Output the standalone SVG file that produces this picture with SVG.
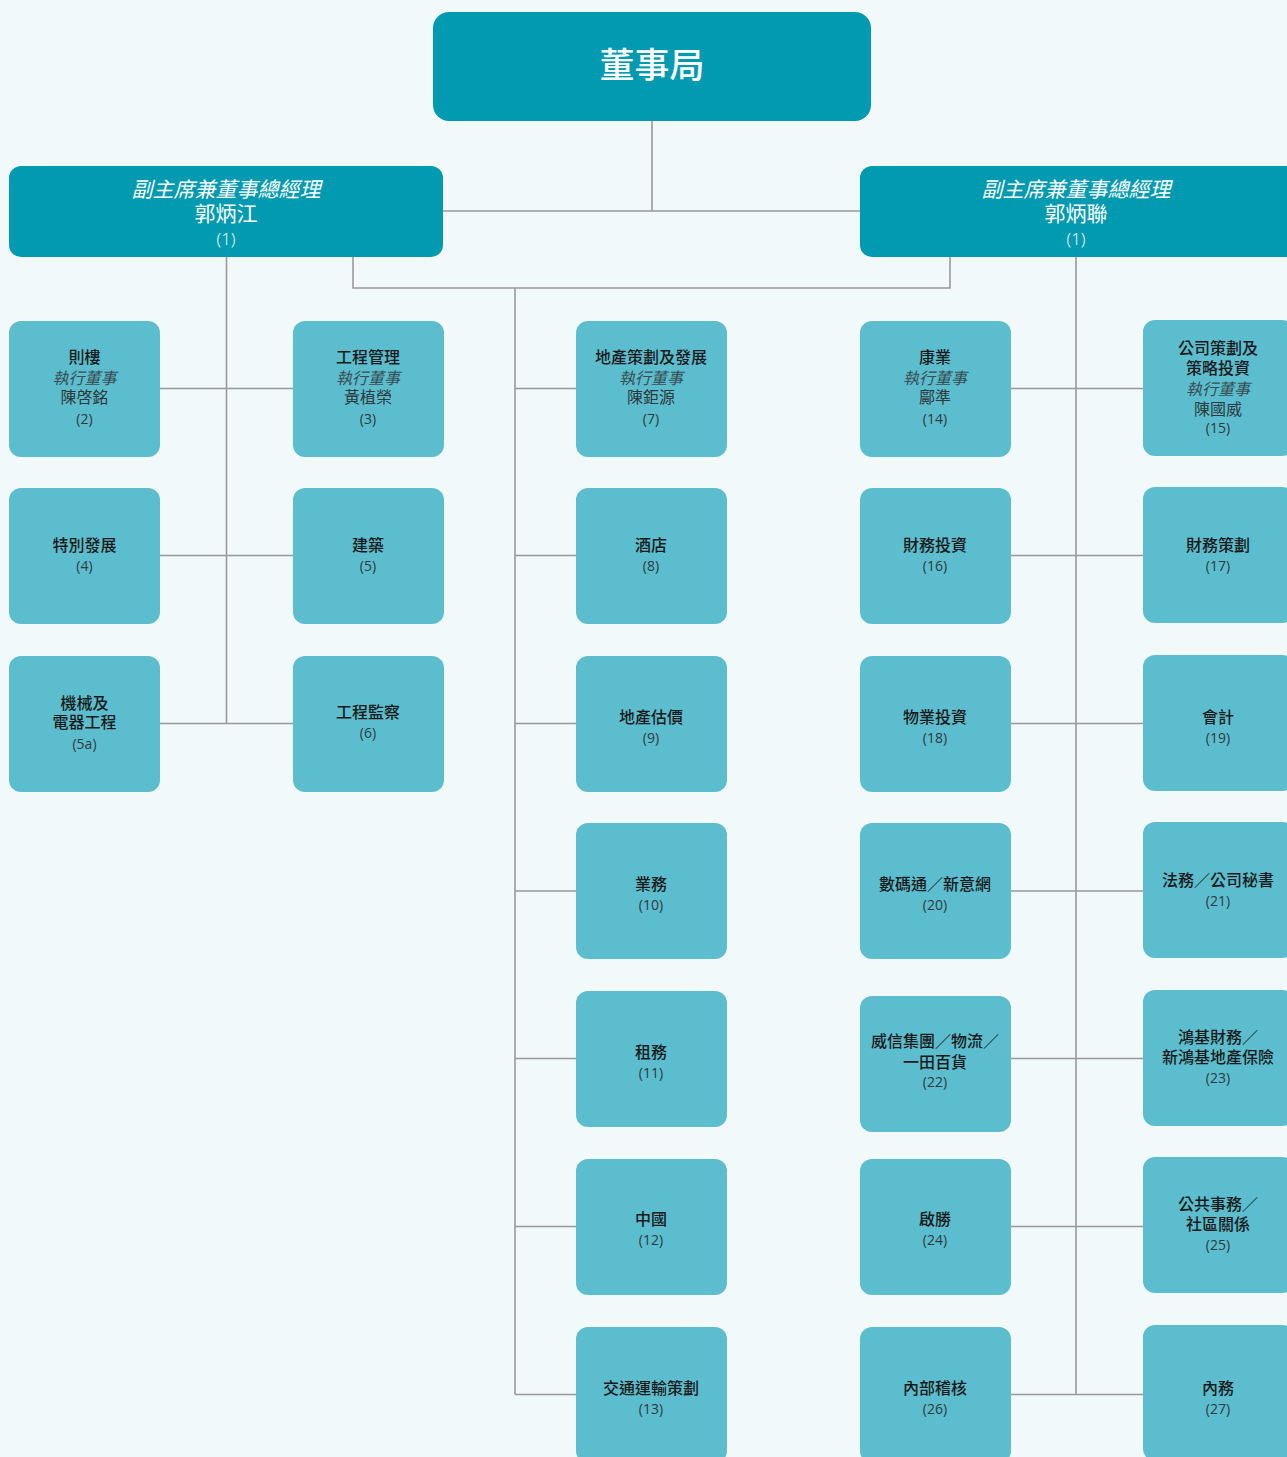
<svg xmlns="http://www.w3.org/2000/svg" width="1287" height="1457" viewBox="0 0 1287 1457">
<style>
.bg{fill:#f2f9fb}
.top{fill:#029ab1}
.box{fill:#5bbdcd}
.ln{stroke:#999;stroke-width:1.6;fill:none}
text{font-family:"Noto Sans CJK TC","Noto Sans CJK SC",sans-serif;text-anchor:middle}
.t{font-size:16px;font-weight:500;fill:#1a1a1a}
.i{font-size:16px;font-style:italic;font-weight:400;fill:#3a4d52}
.n{font-size:16px;font-weight:400;fill:#2e393c}
.d{font-size:14px;font-weight:400;fill:#2f3a3d;font-family:"Open Sans","Noto Sans",sans-serif}
.w{fill:#ffffff}
</style>
<rect class="bg" x="0" y="0" width="1287" height="1457"/>
<g id="connectors">
<path class="ln" d="M652 121V211M443 211H860"/>
<path class="ln" d="M226.5 257V723.5M160 388.5H293M160 555.5H293M160 723.5H293"/>
<path class="ln" d="M353 257V288H950V257M515 288V1394.5"/>
<path class="ln" d="M515 388.5H576M515 555.5H576M515 723.5H576M515 891H576M515 1058.5H576M515 1226.5H576M515 1394.5H576"/>
<path class="ln" d="M1076 257V1394.5"/>
<path class="ln" d="M1010 388.5H1143M1010 555.5H1143M1010 723.5H1143M1010 891H1143M1010 1058.5H1143M1010 1226.5H1143M1010 1394.5H1143"/>
</g>
<g id="board">
<rect class="top" x="433" y="12" width="438" height="109" rx="16"/>
<text class="w" x="652" y="78" font-size="35" font-weight="500">董事局</text>
</g>
<g id="vp-left">
<rect class="top" x="9" y="166" width="434" height="91" rx="12"/>
<text class="w" x="226" y="197" font-size="21" font-style="italic">副主席兼董事總經理</text>
<text class="w" x="226" y="221" font-size="21">郭炳江</text>
<text class="w" x="226" y="245" font-size="17" font-weight="300" style="font-family:'Open Sans',sans-serif">(1)</text>
</g>
<g id="vp-right">
<rect class="top" x="860" y="166" width="440" height="91" rx="12"/>
<text class="w" x="1076" y="197" font-size="21" font-style="italic">副主席兼董事總經理</text>
<text class="w" x="1076" y="221" font-size="21">郭炳聯</text>
<text class="w" x="1076" y="245" font-size="17" font-weight="300" style="font-family:'Open Sans',sans-serif">(1)</text>
</g>
<g id="n2"><rect class="box" x="9" y="321" width="151" height="136" rx="12"/>
<text class="t" x="84.5" y="363">則樓</text><text class="i" x="84.5" y="384">執行董事</text><text class="n" x="84.5" y="403">陳啓銘</text><text class="d" x="84.5" y="424">(2)</text></g>
<g id="n3"><rect class="box" x="293" y="321" width="151" height="136" rx="12"/>
<text class="t" x="368" y="363">工程管理</text><text class="i" x="368" y="384">執行董事</text><text class="n" x="368" y="403">黃植榮</text><text class="d" x="368" y="424">(3)</text></g>
<g id="n4"><rect class="box" x="9" y="488" width="151" height="136" rx="12"/>
<text class="t" x="84.5" y="551">特別發展</text><text class="d" x="84.5" y="571">(4)</text></g>
<g id="n5"><rect class="box" x="293" y="488" width="151" height="136" rx="12"/>
<text class="t" x="368" y="551">建築</text><text class="d" x="368" y="571">(5)</text></g>
<g id="n5a"><rect class="box" x="9" y="656" width="151" height="136" rx="12"/>
<text class="t" x="84.5" y="709">機械及</text><text class="t" x="84.5" y="728">電器工程</text><text class="d" x="84.5" y="749">(5a)</text></g>
<g id="n6"><rect class="box" x="293" y="656" width="151" height="136" rx="12"/>
<text class="t" x="368" y="718">工程監察</text><text class="d" x="368" y="738">(6)</text></g>
<g id="n7"><rect class="box" x="576" y="321" width="151" height="136" rx="12"/>
<text class="t" x="651" y="363">地產策劃及發展</text><text class="i" x="651" y="384">執行董事</text><text class="n" x="651" y="403">陳鉅源</text><text class="d" x="651" y="424">(7)</text></g>
<g id="n8"><rect class="box" x="576" y="488" width="151" height="136" rx="12"/>
<text class="t" x="651" y="551">酒店</text><text class="d" x="651" y="571">(8)</text></g>
<g id="n9"><rect class="box" x="576" y="656" width="151" height="136" rx="12"/>
<text class="t" x="651" y="723">地產估價</text><text class="d" x="651" y="743">(9)</text></g>
<g id="n10"><rect class="box" x="576" y="823" width="151" height="136" rx="12"/>
<text class="t" x="651" y="890">業務</text><text class="d" x="651" y="910">(10)</text></g>
<g id="n11"><rect class="box" x="576" y="991" width="151" height="136" rx="12"/>
<text class="t" x="651" y="1058">租務</text><text class="d" x="651" y="1078">(11)</text></g>
<g id="n12"><rect class="box" x="576" y="1159" width="151" height="136" rx="12"/>
<text class="t" x="651" y="1225">中國</text><text class="d" x="651" y="1245">(12)</text></g>
<g id="n13"><rect class="box" x="576" y="1327" width="151" height="136" rx="12"/>
<text class="t" x="651" y="1394">交通運輸策劃</text><text class="d" x="651" y="1414">(13)</text></g>
<g id="n14"><rect class="box" x="860" y="321" width="151" height="136" rx="12"/>
<text class="t" x="935" y="363">康業</text><text class="i" x="935" y="384">執行董事</text><text class="n" x="935" y="403">鄺準</text><text class="d" x="935" y="424">(14)</text></g>
<g id="n15"><rect class="box" x="1143" y="320" width="151" height="136" rx="12"/>
<text class="t" x="1218" y="354">公司策劃及</text><text class="t" x="1218" y="374">策略投資</text><text class="i" x="1218" y="395">執行董事</text><text class="n" x="1218" y="415">陳國威</text><text class="d" x="1218" y="433">(15)</text></g>
<g id="n16"><rect class="box" x="860" y="488" width="151" height="136" rx="12"/>
<text class="t" x="935" y="551">財務投資</text><text class="d" x="935" y="571">(16)</text></g>
<g id="n17"><rect class="box" x="1143" y="487" width="151" height="136" rx="12"/>
<text class="t" x="1218" y="551">財務策劃</text><text class="d" x="1218" y="571">(17)</text></g>
<g id="n18"><rect class="box" x="860" y="656" width="151" height="136" rx="12"/>
<text class="t" x="935" y="723">物業投資</text><text class="d" x="935" y="743">(18)</text></g>
<g id="n19"><rect class="box" x="1143" y="655" width="151" height="136" rx="12"/>
<text class="t" x="1218" y="723">會計</text><text class="d" x="1218" y="743">(19)</text></g>
<g id="n20"><rect class="box" x="860" y="823" width="151" height="136" rx="12"/>
<text class="t" x="935" y="890">數碼通／新意網</text><text class="d" x="935" y="910">(20)</text></g>
<g id="n21"><rect class="box" x="1143" y="822" width="151" height="136" rx="12"/>
<text class="t" x="1218" y="886">法務／公司秘書</text><text class="d" x="1218" y="906">(21)</text></g>
<g id="n22"><rect class="box" x="860" y="996" width="151" height="136" rx="12"/>
<text class="t" x="935" y="1047">威信集團／物流／</text><text class="t" x="935" y="1068">一田百貨</text><text class="d" x="935" y="1087">(22)</text></g>
<g id="n23"><rect class="box" x="1143" y="990" width="151" height="136" rx="12"/>
<text class="t" x="1218" y="1043">鴻基財務／</text><text class="t" x="1218" y="1063">新鴻基地產保險</text><text class="d" x="1218" y="1083">(23)</text></g>
<g id="n24"><rect class="box" x="860" y="1159" width="151" height="136" rx="12"/>
<text class="t" x="935" y="1225">啟勝</text><text class="d" x="935" y="1245">(24)</text></g>
<g id="n25"><rect class="box" x="1143" y="1157" width="151" height="136" rx="12"/>
<text class="t" x="1218" y="1210">公共事務／</text><text class="t" x="1218" y="1230">社區關係</text><text class="d" x="1218" y="1250">(25)</text></g>
<g id="n26"><rect class="box" x="860" y="1327" width="151" height="136" rx="12"/>
<text class="t" x="935" y="1394">內部稽核</text><text class="d" x="935" y="1414">(26)</text></g>
<g id="n27"><rect class="box" x="1143" y="1325" width="151" height="136" rx="12"/>
<text class="t" x="1218" y="1394">內務</text><text class="d" x="1218" y="1414">(27)</text></g>
</svg>
